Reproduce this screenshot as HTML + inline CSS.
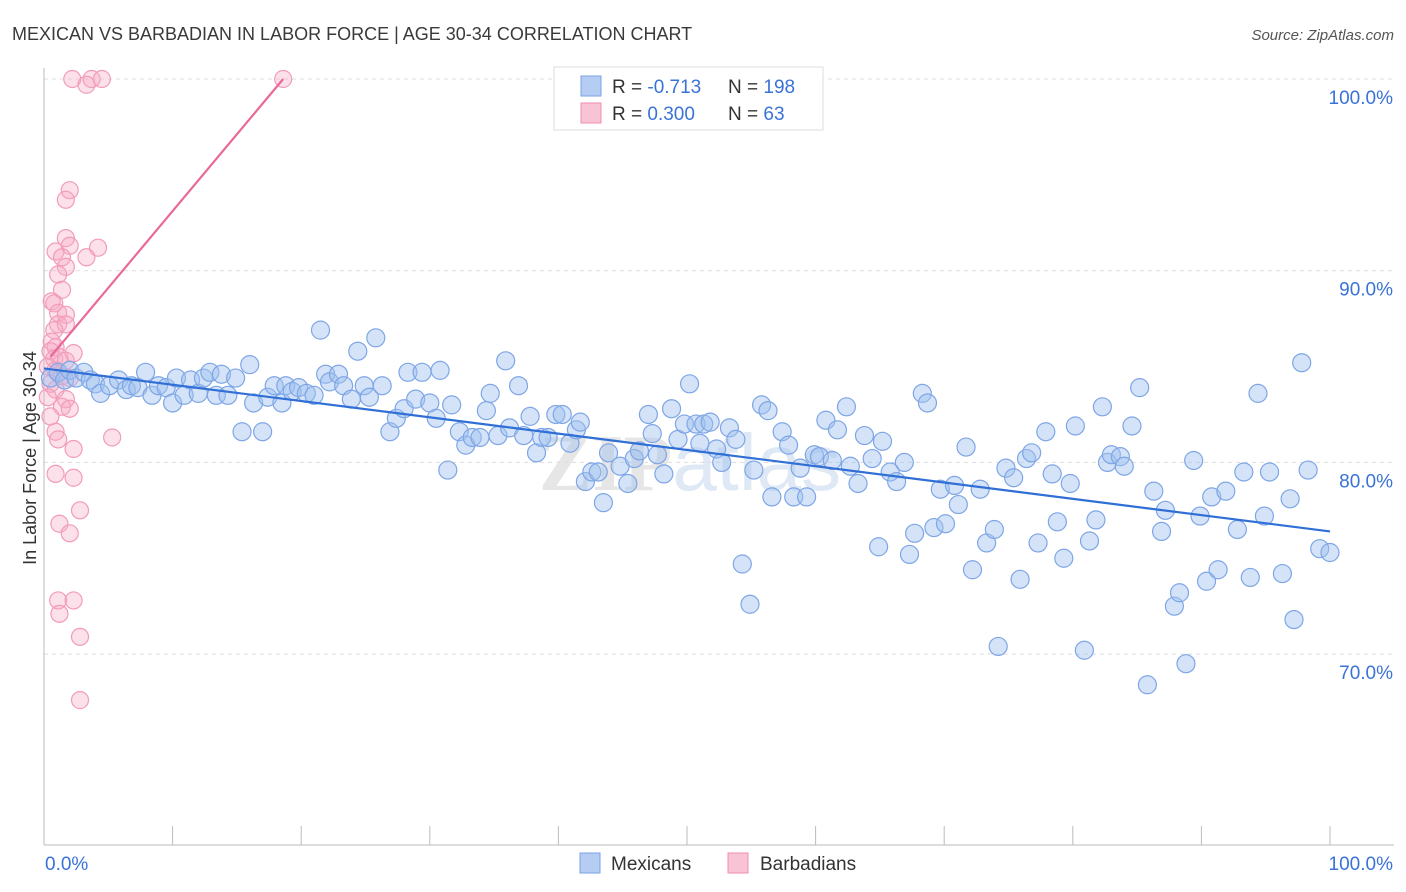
<!DOCTYPE html>
<html><head><meta charset="utf-8">
<style>
body{margin:0;background:#fff;font-family:"Liberation Sans",sans-serif;}
#wrap{position:relative;width:1406px;height:892px;overflow:hidden;}
</style></head>
<body>
<div id="wrap">
<svg id="svg" width="1406" height="892" xmlns="http://www.w3.org/2000/svg">
<text x="12" y="40" font-size="18" fill="#3a3a3a">MEXICAN VS BARBADIAN IN LABOR FORCE | AGE 30-34 CORRELATION CHART</text>
<text x="1394" y="40" font-size="15" fill="#555" text-anchor="end" font-style="italic">Source: ZipAtlas.com</text>
<text x="36" y="458" font-size="18" fill="#333" text-anchor="middle" transform="rotate(-90 36 458)">In Labor Force | Age 30-34</text>
<text x="690" y="490" font-size="80" font-weight="bold" fill="#e6e6e6" text-anchor="middle" font-family="Liberation Serif,serif">ZIP<tspan font-weight="normal" fill="#dfe8f5" font-family="Liberation Sans,sans-serif">atlas</tspan></text>
<g id="grid"></g>
<g id="axes"></g>
<g id="pink"></g>
<g id="blue"></g>
<g id="trends"></g>
<g>
<rect x="554" y="67" width="269" height="63" fill="#fff" stroke="#ddd"/>
<rect x="581" y="76" width="20" height="20" fill="#b5cdf3" stroke="#7aa3e5"/>
<rect x="581" y="103" width="20" height="20" fill="#f8c4d5" stroke="#f08cb0"/>
<text x="612" y="93" font-size="19" fill="#333">R = <tspan fill="#3a72d8">-0.713</tspan></text>
<text x="728" y="93" font-size="19" fill="#333">N = <tspan fill="#3a72d8">198</tspan></text>
<text x="612" y="120" font-size="19" fill="#333">R = <tspan fill="#3a72d8">0.300</tspan></text>
<text x="728" y="120" font-size="19" fill="#333">N = <tspan fill="#3a72d8"> 63</tspan></text>
</g>
<g>
<rect x="580" y="853" width="20" height="20" fill="#b5cdf3" stroke="#7aa3e5"/>
<text x="611" y="870" font-size="19" fill="#333">Mexicans</text>
<rect x="728" y="853" width="20" height="20" fill="#f8c4d5" stroke="#f08cb0"/>
<text x="760" y="870" font-size="19" fill="#333">Barbadians</text>
</g>
</svg>
</div>
<script>
const blueX=[0.5,1.1,1.6,2.0,2.5,3.1,3.6,4.0,4.4,5.1,5.8,6.4,6.8,7.3,7.9,8.4,8.9,9.5,10.0,10.3,10.9,11.4,12.0,12.4,12.9,13.4,13.8,14.3,14.9,15.4,16.0,16.3,17.0,17.4,17.9,18.5,18.8,19.3,19.8,20.4,21.0,21.5,21.9,22.2,22.9,23.3,23.9,24.4,24.9,25.3,25.8,26.3,26.9,27.4,28.0,28.3,28.9,29.4,30.0,30.5,30.8,31.4,31.7,32.3,32.8,33.3,33.9,34.4,34.7,35.3,35.9,36.2,36.9,37.3,37.8,38.3,38.7,39.2,39.8,40.3,40.9,41.4,41.7,42.1,42.6,43.1,43.5,43.9,44.8,45.4,45.9,46.3,47.0,47.3,47.7,48.2,48.8,49.3,49.8,50.2,50.7,51.0,51.3,51.8,52.3,52.7,53.3,53.8,54.3,54.9,55.2,55.8,56.3,56.6,57.4,57.9,58.3,58.8,59.3,59.9,60.3,60.8,61.3,61.7,62.4,62.7,63.3,63.8,64.4,64.9,65.2,65.8,66.3,66.9,67.3,67.7,68.3,68.7,69.2,69.7,70.1,70.8,71.1,71.7,72.2,72.8,73.3,73.9,74.2,74.8,75.4,75.9,76.4,76.8,77.3,77.9,78.4,78.8,79.3,79.8,80.2,80.9,81.3,81.8,82.3,82.7,83.0,83.7,84.0,84.6,85.2,85.8,86.3,86.9,87.2,87.9,88.3,88.8,89.4,89.9,90.4,90.8,91.3,91.9,92.8,93.3,93.8,94.4,94.9,95.3,96.3,96.9,97.2,97.8,98.3,99.2,100.0];
const blueY=[84.4,84.7,84.3,84.8,84.4,84.7,84.3,84.1,83.6,84.0,84.3,83.8,84.0,83.9,84.7,83.5,84.0,83.9,83.1,84.4,83.5,84.3,83.6,84.4,84.7,83.5,84.6,83.5,84.4,81.6,85.1,83.1,81.6,83.4,84.0,83.1,84.0,83.7,83.9,83.6,83.5,86.9,84.6,84.2,84.6,84.0,83.3,85.8,84.0,83.4,86.5,84.0,81.6,82.3,82.8,84.7,83.3,84.7,83.1,82.3,84.8,79.6,83.0,81.6,80.9,81.3,81.3,82.7,83.6,81.4,85.3,81.8,84.0,81.4,82.4,80.5,81.3,81.3,82.5,82.5,81.0,81.7,82.1,79.0,79.5,79.5,77.9,80.5,79.8,78.9,80.2,80.6,82.5,81.5,80.4,79.4,82.8,81.2,82.0,84.1,82.0,81.0,82.0,82.1,80.7,80.0,81.8,81.2,74.7,72.6,79.6,83.0,82.7,78.2,81.6,80.9,78.2,79.7,78.2,80.4,80.3,82.2,80.1,81.7,82.9,79.8,78.9,81.4,80.2,75.6,81.1,79.5,79.0,80.0,75.2,76.3,83.6,83.1,76.6,78.6,76.8,78.8,77.8,80.8,74.4,78.6,75.8,76.5,70.4,79.7,79.2,73.9,80.2,80.5,75.8,81.6,79.4,76.9,75.0,78.9,81.9,70.2,75.9,77.0,82.9,80.0,80.4,80.3,79.8,81.9,83.9,68.4,78.5,76.4,77.5,72.5,73.2,69.5,80.1,77.2,73.8,78.2,74.4,78.5,76.5,79.5,74.0,83.6,77.2,79.5,74.2,78.1,71.8,85.2,79.6,75.5,75.3];
const pinkX=[2.2,3.3,3.7,4.5,18.6,2.0,1.7,1.7,0.9,2.0,4.2,1.4,3.3,1.7,1.1,1.4,0.6,0.8,1.1,1.7,1.1,1.7,0.8,0.6,0.9,0.5,0.8,1.2,1.7,2.3,0.3,0.9,1.4,2.0,0.5,0.9,0.3,1.7,1.4,2.0,0.5,0.9,1.1,2.3,5.3,0.9,2.3,2.8,1.2,2.0,1.1,2.3,1.2,2.8,2.8];
const pinkY=[100,99.7,100,100,100,94.2,93.7,91.7,91.0,91.3,91.2,90.7,90.7,90.2,89.8,89.0,88.4,88.3,87.8,87.7,87.2,87.2,86.9,86.3,86.0,85.8,85.4,85.5,85.3,85.7,85.0,84.8,84.5,84.4,84.1,83.8,83.4,83.3,82.9,82.8,82.4,81.6,81.2,80.7,81.3,79.4,79.2,77.5,76.8,76.3,72.8,72.8,72.1,70.9,67.6];
const blueTrendX=[0,100];
const blueTrendY=[84.9,76.4];
const pinkTrendX=[0.5,18.6];
const pinkTrendY=[85.5,100];
const yTicks=[100,90,80,70];
const yTickLabels=["100.0%","90.0%","80.0%","70.0%"];
const xTickVals=[0,10,20,30,40,50,60,70,80,90,100];

const NS="http://www.w3.org/2000/svg";
const X0=44,X1=1330,YB=845;
function sx(v){return X0+(X1-X0)*v/100;}
function sy(v){return 79+(100-v)*19.17;}
function mk(tag,attrs,parent){const e=document.createElementNS(NS,tag);for(const k in attrs)e.setAttribute(k,attrs[k]);document.getElementById(parent).appendChild(e);return e;}

yTicks.forEach((t,i)=>{
  const g=mk('line',{x1:X0,x2:1394,y1:sy(t),y2:sy(t),stroke:'#ddd','stroke-dasharray':'4,4'},'grid');
  
  
  const l=mk('text',{x:1393,y:sy(t)+25,'font-size':19,fill:'#3a72d8','text-anchor':'end'},'grid');
  l.textContent=yTickLabels[i];
  
  
});
const ya=mk('line',{x1:X0,x2:X0,y1:68,y2:YB,stroke:'#bbb'},'axes');


const xa=mk('line',{x1:X0,x2:1394,y1:YB,y2:YB,stroke:'#bbb'},'axes');


xTickVals.forEach(v=>{
  const t=mk('line',{x1:sx(v),x2:sx(v),y1:826,y2:YB,stroke:'#bbb'},'axes');
  
  
});
const xl0=mk('text',{x:45,y:870,'font-size':19,fill:'#3a72d8'},'axes');
xl0.textContent='0.0%';


const xl1=mk('text',{x:1393,y:870,'font-size':19,fill:'#3a72d8','text-anchor':'end'},'axes');
xl1.textContent='100.0%';



pinkX.forEach((x,i)=>{
  const c=mk('circle',{cx:sx(x),cy:sy(pinkY[i]),r:8.5,fill:'rgba(245,170,195,0.35)',stroke:'#f29bbb','stroke-width':1.2},'pink');
  
  
});
blueX.forEach((x,i)=>{
  const c=mk('circle',{cx:sx(x),cy:sy(blueY[i]),r:9,fill:'rgba(160,192,240,0.45)',stroke:'#7ea6e6','stroke-width':1.2},'blue');
  
  
});
const bt=mk('line',{x1:sx(blueTrendX[0]),y1:sy(blueTrendY[0]),x2:sx(blueTrendX[1]),y2:sy(blueTrendY[1]),stroke:'#2f6fd6','stroke-width':2.2},'trends');


const pt=mk('line',{x1:sx(pinkTrendX[0]),y1:sy(pinkTrendY[0]),x2:sx(pinkTrendX[1]),y2:sy(pinkTrendY[1]),stroke:'#e8699a','stroke-width':2.2},'trends');


</script>
</body></html>
